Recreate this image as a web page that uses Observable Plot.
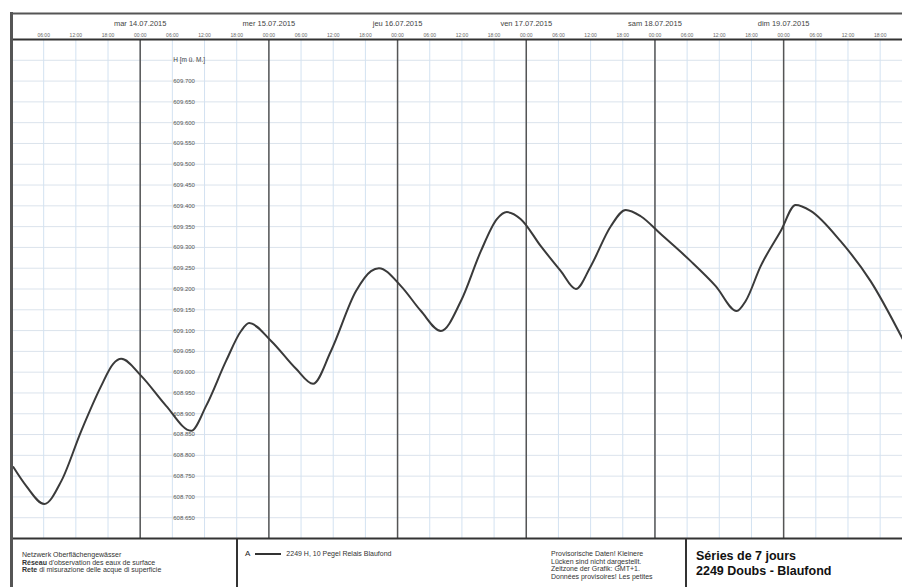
<!DOCTYPE html>
<html><head><meta charset="utf-8">
<script src="https://cdn.jsdelivr.net/npm/d3@7"></script>
<script src="https://cdn.jsdelivr.net/npm/@observablehq/plot@0.6"></script>
<style>
body{margin:0;background:#fff;font-family:"Liberation Sans",Arial,sans-serif;}
#wrap{position:relative;width:902px;height:587px;overflow:hidden;background:#fff;}
#chart{position:absolute;left:0;top:0;}
.abs{position:absolute;}
.ft{font-size:7px;line-height:7.5px;color:#333;white-space:nowrap;}
.big{font-size:12.5px;font-weight:bold;line-height:15px;color:#111;white-space:nowrap;}
</style></head><body>
<div id="wrap">
<div id="chart"></div>
<div class="abs" style="left:10px;top:12px;width:3px;height:575px;background:#555"></div>
<div class="abs" style="left:236px;top:538px;width:2px;height:49px;background:#333"></div>
<div class="abs" style="left:685px;top:538px;width:2px;height:49px;background:#333"></div>
<div class="abs ft" id="fLeft" style="left:22px;top:551px"></div>
<div class="abs ft" style="left:245px;top:550px;display:flex;align-items:center;gap:5px">
  <span id="fKey" style="font-size:8px;color:#222"></span>
  <span style="display:inline-block;width:26px;height:2px;background:#333"></span>
  <span id="fSeries"></span>
</div>
<div class="abs ft" id="fNote" style="left:551px;top:550px"></div>
<div class="abs big" id="fTitle" style="left:696px;top:549px"></div>
</div>
<script>
// ---- data ----
const times = [
"2015-07-13T00:20","2015-07-13T02:46","2015-07-13T06:07","2015-07-13T09:17","2015-07-13T13:01",
"2015-07-13T16:44","2015-07-13T18:58","2015-07-13T20:28","2015-07-14T00:11","2015-07-14T04:50",
"2015-07-14T09:30","2015-07-14T12:18","2015-07-14T16:01","2015-07-14T18:49","2015-07-14T20:19",
"2015-07-15T00:25","2015-07-15T05:04","2015-07-15T08:14","2015-07-15T11:35","2015-07-15T16:15",
"2015-07-15T19:03","2015-07-15T20:32","2015-07-16T00:38","2015-07-16T04:22","2015-07-16T08:05",
"2015-07-16T11:49","2015-07-16T15:32","2015-07-16T18:31","2015-07-16T20:23","2015-07-16T22:59",
"2015-07-17T02:43","2015-07-17T06:27","2015-07-17T09:15","2015-07-17T12:02","2015-07-17T15:46",
"2015-07-17T18:33","2015-07-17T21:21","2015-07-18T01:05","2015-07-18T06:40","2015-07-18T11:20",
"2015-07-18T15:15","2015-07-18T16:55","2015-07-18T19:43","2015-07-18T23:26","2015-07-19T02:14",
"2015-07-19T05:02","2015-07-19T10:37","2015-07-19T16:13","2015-07-19T22:11"
];
const levels = [
608.772,608.726,608.683,608.738,608.859,
608.967,609.020,609.032,608.991,608.919,
608.859,608.919,609.027,609.099,609.118,
609.075,609.008,608.972,609.051,609.195,
609.243,609.250,609.207,609.147,609.099,
609.171,609.291,609.368,609.385,609.368,
609.303,609.243,609.200,609.255,609.351,
609.390,609.375,609.332,609.267,609.207,
609.147,609.171,609.255,609.339,609.402,
609.388,609.315,609.219,609.080
];
const dayTicks = ["2015-07-14T00:00","2015-07-15T00:00","2015-07-16T00:00","2015-07-17T00:00","2015-07-18T00:00","2015-07-19T00:00"];
const dayLabels = ["mar 14.07.2015","mer 15.07.2015","jeu 16.07.2015","ven 17.07.2015","sam 18.07.2015","dim 19.07.2015"];
const yTickLabels = [609.70,609.65,609.60,609.55,609.50,609.45,609.40,609.35,609.30,609.25,609.20,609.15,609.10,609.05,609.00,608.95,608.90,608.85,608.80,608.75,608.70,608.65];
const yGrid = [609.75, ...yTickLabels, 608.60];
const yTitle = "H [m ü. M.]";
const xDomain = ["2015-07-13T00:00","2015-07-19T22:10"];
const yDomain = [608.60, 609.80];
const footerLeft = ["Netzwerk Oberflächengewässer","<b>Réseau</b> d'observation des eaux de surface","<b>Rete</b> di misurazione delle acque di superficie"];
const seriesKey = "A";
const seriesName = "2249 H, 10 Pegel Relais Blaufond";
const footerNote = ["Provisorische Daten! Kleinere","Lücken sind nicht dargestellt.","Zeitzone der Grafik: GMT+1.","Données provisoires! Les petites"];
const titleLines = ["Séries de 7 jours","2249 Doubs - Blaufond"];

// ---- build ----
const U = s => new Date(s + "Z");
const data = times.map((t, i) => ({t: U(t), h: levels[i]}));
const days = dayTicks.map((d, i) => ({d: U(d), label: dayLabels[i]}));
const x0 = U(xDomain[0]), x1 = U(xDomain[1]);
const hourTicks = d3.utcHour.every(6).range(d3.utcHour.offset(x0, 1), x1);
const labelX = U("2015-07-14T06:10");
const fmtH = d3.utcFormat("%H:%M");

const chart = Plot.plot({
  width: 902, height: 540,
  marginTop: 39, marginBottom: 2, marginLeft: 11, marginRight: 0,
  style: {fontFamily: "'Liberation Sans', Arial, sans-serif", background: "#fff"},
  x: {type: "utc", domain: [x0, x1], axis: null},
  y: {domain: yDomain, axis: null},
  marks: [
    Plot.ruleY(yGrid, {stroke: "#dbe3ec", strokeWidth: 1}),
    Plot.ruleX(hourTicks, {stroke: "#d3e2f1", strokeWidth: 1}),
    Plot.ruleX(days, {x: "d", stroke: "#555", strokeWidth: 1.5}),
    Plot.text(yTickLabels, {x: () => labelX, y: d => d, text: d => d.toFixed(3), textAnchor: "start", fontSize: 6, fill: "#555"}),
    Plot.text([yTitle], {x: () => labelX, y: () => 609.75, text: d => d, textAnchor: "start", fontSize: 6.5, fill: "#444"}),
    Plot.line(data, {x: "t", y: "h", curve: "monotone-x", stroke: "#3a3a3a", strokeWidth: 2}),
    Plot.text(days, {x: "d", text: "label", frameAnchor: "top", dy: -19, fontSize: 7.5, fill: "#444"}),
    Plot.text(hourTicks, {x: d => d, text: d => fmtH(d), frameAnchor: "top", dy: -6, fontSize: 5, fill: "#666"}),
    Plot.frame({anchor: "top", dy: -26, stroke: "#555", strokeWidth: 2}),
    Plot.frame({anchor: "top", stroke: "#333", strokeWidth: 2}),
    Plot.frame({anchor: "bottom", stroke: "#333", strokeWidth: 2})
  ]
});
document.getElementById("chart").appendChild(chart);
document.getElementById("fLeft").innerHTML = footerLeft.join("<br>");
document.getElementById("fKey").textContent = seriesKey;
document.getElementById("fSeries").textContent = seriesName;
document.getElementById("fNote").innerHTML = footerNote.join("<br>");
document.getElementById("fTitle").innerHTML = titleLines.join("<br>");
</script>
</body></html>
